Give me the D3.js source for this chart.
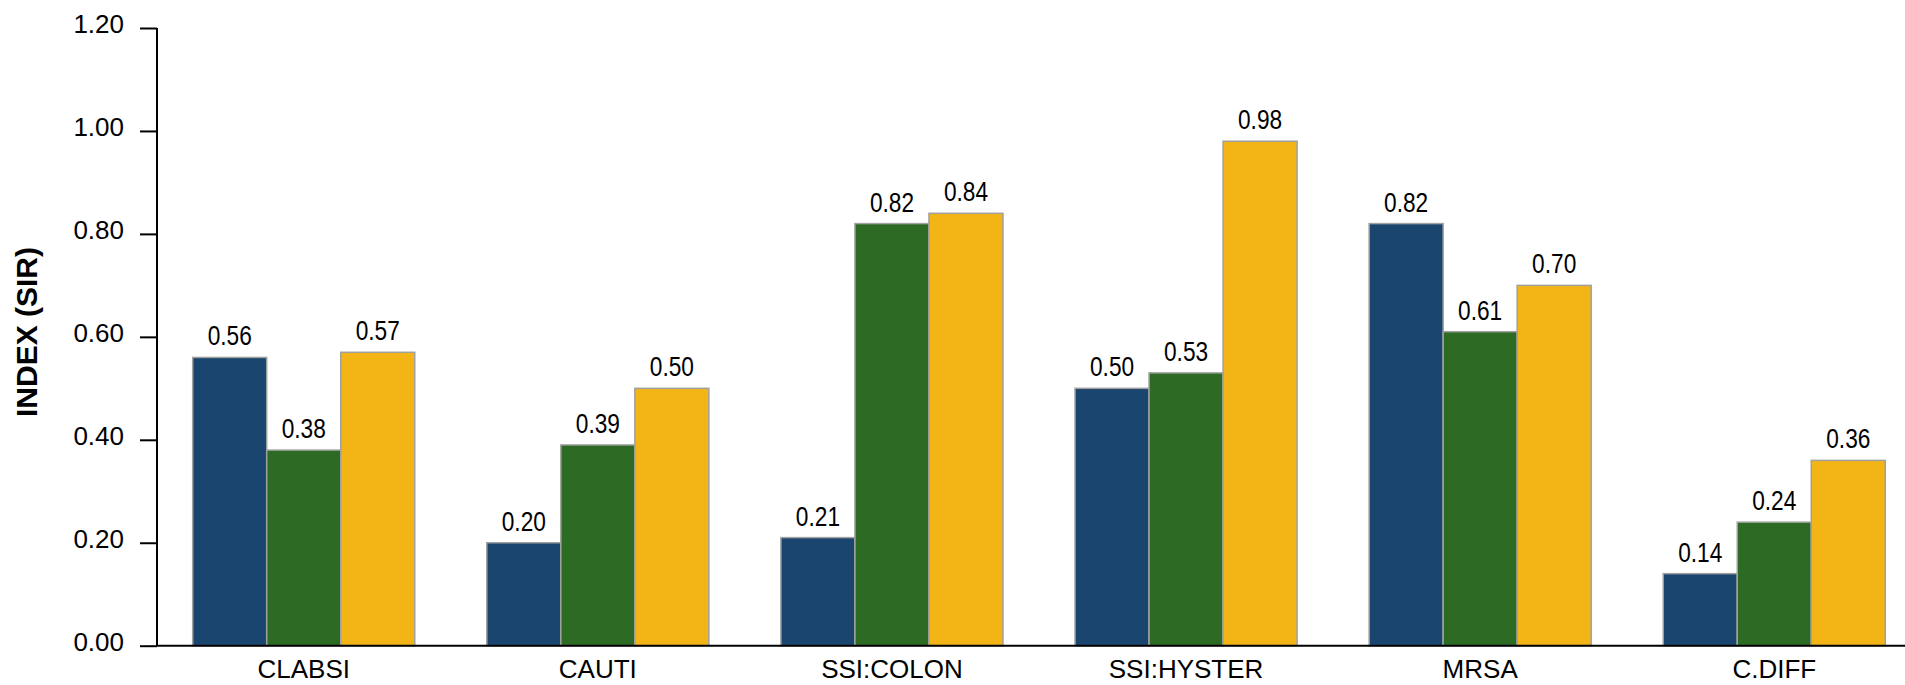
<!DOCTYPE html>
<html>
<head>
<meta charset="utf-8">
<script src="https://cdn.jsdelivr.net/npm/d3@7"></script>
<style>
  html, body { margin: 0; padding: 0; background: #fff; }
  svg { display: block; font-family: "Liberation Sans", Arial, sans-serif; }
</style>
</head>
<body>
<svg id="chart" width="1905" height="685"></svg>
<script>
const categories = ["CLABSI", "CAUTI", "SSI:COLON", "SSI:HYSTER", "MRSA", "C.DIFF"];
const seriesNames = ["Series 1", "Series 2", "Series 3"];
const series1 = [0.56, 0.20, 0.21, 0.50, 0.82, 0.14];
const series2 = [0.38, 0.39, 0.82, 0.53, 0.61, 0.24];
const series3 = [0.57, 0.50, 0.84, 0.98, 0.70, 0.36];
const yTicks = [0, 0.2, 0.4, 0.6, 0.8, 1.0, 1.2];
const colors = ["#1a456e", "#2d6a23", "#f3b516"];
const yTitle = "INDEX (SIR)";

const allSeries = [series1, series2, series3];
const svg = d3.select("#chart");

const y = d3.scaleLinear().domain([0, 1.2]).range([645.7, 28]);
const x0 = d3.scaleBand().domain(categories).range([157, 1921])
  .paddingInner(0.245).paddingOuter(0.1214);
const x1 = d3.scaleBand().domain(seriesNames).range([0, x0.bandwidth()]).padding(0);

// bars
const groups = svg.append("g").selectAll("g").data(categories).join("g")
  .attr("transform", d => `translate(${x0(d)},0)`);

groups.each(function(cat, ci) {
  const g = d3.select(this);
  const data = seriesNames.map((s, si) => ({ s, si, v: allSeries[si][ci] }));
  g.selectAll("rect").data(data).join("rect")
    .attr("x", d => x1(d.s))
    .attr("width", x1.bandwidth())
    .attr("y", d => y(d.v))
    .attr("height", d => y(0) - y(d.v))
    .attr("fill", d => colors[d.si])
    .attr("stroke", "#a0a0a0")
    .attr("stroke-width", 1.5);
  g.selectAll("text").data(data).join("text")
    .attr("transform", d => `translate(${x1(d.s) + x1.bandwidth() / 2},${y(d.v) - 12}) scale(0.81,1)`)
    .attr("text-anchor", "middle")
    .attr("font-size", 28)
    .attr("fill", "#000")
    .text(d => d.v.toFixed(2));
});

// y axis
const yAxis = d3.axisLeft(y).tickValues(yTicks).tickFormat(d3.format(".2f")).tickSize(17).tickPadding(16);
const gy = svg.append("g").attr("transform", "translate(157,0)").call(yAxis);
gy.select(".domain").attr("stroke", "#000").attr("stroke-width", 2).attr("d", `M0,${y(1.2)}V${y(0)}`);
gy.selectAll(".tick line").attr("stroke", "#000").attr("stroke-width", 2);
gy.selectAll(".tick text").attr("font-size", 26).attr("fill", "#000").attr("dy", "0.19em")
  .attr("font-family", "Liberation Sans, Arial, sans-serif");

// x axis
const xAxis = d3.axisBottom(x0).tickSize(0).tickPadding(14);
const gx = svg.append("g").attr("transform", `translate(0,${y(0)})`).call(xAxis);
gx.select(".domain").attr("stroke", "#000").attr("stroke-width", 2).attr("d", "M157,0H1905");
gx.selectAll(".tick text").attr("font-size", 26).attr("fill", "#000")
  .attr("font-family", "Liberation Sans, Arial, sans-serif");

// y title
svg.append("text")
  .attr("transform", "translate(37,332) rotate(-90)")
  .attr("text-anchor", "middle")
  .attr("font-size", 30)
  .attr("font-weight", "bold")
  .attr("fill", "#000")
  .text(yTitle);
</script>
</body>
</html>
